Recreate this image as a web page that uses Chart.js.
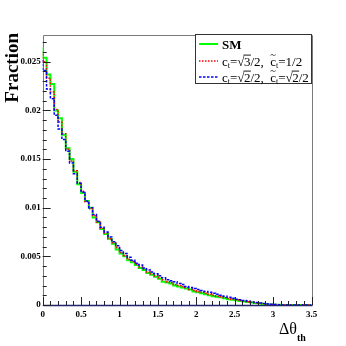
<!DOCTYPE html>
<html>
<head>
<meta charset="utf-8">
<script src="https://cdn.jsdelivr.net/npm/chart.js@4.4.1/dist/chart.umd.min.js"></script>
<style>
  html, body { margin: 0; padding: 0; background: #fff; }
  #wrap { width: 346px; height: 346px; }
</style>
</head>
<body>
<div id="wrap"><canvas id="chart" width="346" height="346"></canvas></div>
<script>
// histogram bins: 0.05 wide, starting at 0
const binWidth = 0.05;

const smValues = [
  0.0265, 0.0254, 0.0237, 0.0227, 0.0200, 0.0192, 0.0175, 0.0161, 0.0150, 0.0137,
  0.0124, 0.0115, 0.0107, 0.0100, 0.0090, 0.0085, 0.0078, 0.0073, 0.0068, 0.0063,
  0.0057, 0.0053, 0.0050, 0.0046, 0.0044, 0.0041, 0.0038, 0.0036, 0.0033, 0.0031,
  0.0029, 0.0027, 0.0024, 0.0023, 0.0022, 0.0020, 0.0019, 0.0018, 0.0017, 0.0016,
  0.0014, 0.0013, 0.0012, 0.0011, 0.0010, 0.0009, 0.00085, 0.0008, 0.0007, 0.0006,
  0.00055, 0.0005, 0.0004, 0.00035, 0.0003, 0.00025, 0.0002, 0.00015, 0.0001, 0.00007,
  0.00005, 0.00003, 0.00002, 0.00001, 0, 0, 0, 0, 0, 0,
];
const redValues = [
  0.0258, 0.0250, 0.0233, 0.0219, 0.0201, 0.0188, 0.0176, 0.0160, 0.0148, 0.0138,
  0.0126, 0.0117, 0.0106, 0.0099, 0.0092, 0.0085, 0.0079, 0.0074, 0.0068, 0.0064,
  0.0059, 0.0054, 0.0051, 0.0047, 0.0045, 0.0042, 0.0039, 0.0037, 0.0034, 0.0032,
  0.0030, 0.0028, 0.0026, 0.0024, 0.0023, 0.0021, 0.0020, 0.0019, 0.0018, 0.0016,
  0.0015, 0.0014, 0.0013, 0.0012, 0.0011, 0.0010, 0.0009, 0.00085, 0.00075, 0.00068,
  0.0006, 0.00052, 0.00045, 0.0004, 0.00033, 0.00028, 0.00022, 0.00017, 0.00012, 0.00009,
  0.00006, 0.00004, 0.00002, 0.00001, 0, 0, 0, 0, 0, 0,
];
const blueValues = [
  0.0252, 0.0241, 0.0222, 0.0212, 0.0195, 0.0181, 0.0170, 0.0158, 0.0146, 0.0135,
  0.0125, 0.0116, 0.0107, 0.0100, 0.0093, 0.0086, 0.0080, 0.0075, 0.0070, 0.0065,
  0.0061, 0.0056, 0.0053, 0.0049, 0.0046, 0.0043, 0.0041, 0.0038, 0.0036, 0.0034,
  0.0032, 0.0030, 0.0028, 0.0026, 0.0025, 0.0024, 0.0022, 0.0021, 0.0019, 0.0018,
  0.0017, 0.0016, 0.0015, 0.0014, 0.0013, 0.0012, 0.0011, 0.0010, 0.0009, 0.0008,
  0.0007, 0.0006, 0.00055, 0.00045, 0.0004, 0.00032, 0.00026, 0.0002, 0.00015, 0.0001,
  0.00007, 0.00005, 0.00003, 0.00001, 0, 0, 0, 0, 0, 0,
];

const xTicks = [0, 0.5, 1, 1.5, 2, 2.5, 3, 3.5];
const xTickLabels = ['0', '0.5', '1', '1.5', '2', '2.5', '3', '3.5'];
const yTicks = [0, 0.005, 0.01, 0.015, 0.02, 0.025];
const yTickLabels = ['0', '0.005', '0.01', '0.015', '0.02', '0.025'];

const SERIF = '"Liberation Serif", "DejaVu Serif", serif';

// left bin edges + closing edge, drawn as a step line
const toSteps = (vals) => {
  const pts = vals.map((v, i) => ({ x: +(i * binWidth).toFixed(2), y: v }));
  pts.push({ x: +(vals.length * binWidth).toFixed(2), y: vals[vals.length - 1] });
  return pts;
};

const series = [
  { key: 'sm', data: smValues, color: 'rgb(0,255,0)', width: 2, dash: [], order: 3 },
  { key: 'a', data: redValues, color: 'rgb(255,0,0)', width: 1.5, dash: [1.5, 1.5], order: 2 },
  { key: 'b', data: blueValues, color: 'rgb(0,0,255)', width: 1.5, dash: [2.5, 1.5], order: 1 },
];

// draws "c_t=√3/2" style runs piece by piece
const drawMath = (ctx, x, y, parts, size) => {
  let cx = x;
  parts.forEach((p) => {
    if (p.sub) {
      ctx.font = `${size * 0.62}px ${SERIF}`;
      ctx.fillText(p.sub, cx, y + size * 0.22);
      cx += ctx.measureText(p.sub).width;
      return;
    }
    ctx.font = `${size}px ${SERIF}`;
    if (p.sqrt) {
      const rw = ctx.measureText('\u221A').width;
      ctx.fillText('\u221A', cx, y);
      cx += rw * 0.92;
      const w = ctx.measureText(p.sqrt).width;
      ctx.fillText(p.sqrt, cx, y);
      ctx.save();
      ctx.lineWidth = 0.9;
      ctx.strokeStyle = '#000';
      ctx.beginPath();
      ctx.moveTo(cx - 0.5, y - size * 0.8);
      ctx.lineTo(cx + w + 0.5, y - size * 0.8);
      ctx.stroke();
      ctx.restore();
      cx += w;
      return;
    }
    if (p.tilde) {
      const w = ctx.measureText(p.tilde).width;
      ctx.fillText(p.tilde, cx, y);
      ctx.font = `${size * 0.8}px ${SERIF}`;
      const tw = ctx.measureText('~').width;
      ctx.fillText('~', cx + (w - tw) / 2, y - size * 0.55);
      cx += w;
      return;
    }
    ctx.fillText(p.t, cx, y);
    cx += ctx.measureText(p.t).width;
  });
};

const legendRows = [
  { label: [{ t: 'SM' }], bold: true },
  { label: [{ t: 'c' }, { sub: 't' }, { t: '=' }, { sqrt: '3' }, { t: '/2,  ' }, { tilde: 'c' }, { sub: 't' }, { t: '=1/2' }] },
  { label: [{ t: 'c' }, { sub: 't' }, { t: '=' }, { sqrt: '2' }, { t: '/2,  ' }, { tilde: 'c' }, { sub: 't' }, { t: '=' }, { sqrt: '2' }, { t: '/2' }] },
];

const frameAndTicks = {
  id: 'frameAndTicks',
  beforeDatasetsDraw(chart) {
    const { ctx, chartArea: a } = chart;
    const l = Math.round(a.left) + 0.5, t = Math.round(a.top) + 0.5;
    const r = Math.round(a.right) + 0.5, b = Math.round(a.bottom) + 0.5;
    ctx.save();
    ctx.lineWidth = 1;
    ctx.strokeStyle = '#7a7a7a';
    ctx.beginPath();
    ctx.moveTo(l, b);
    ctx.lineTo(l, t);
    ctx.lineTo(r, t);
    ctx.lineTo(r, b);
    ctx.stroke();
    ctx.strokeStyle = '#23236e';
    ctx.lineWidth = 1.5;
    ctx.beginPath();
    ctx.moveTo(l, b);
    ctx.lineTo(r, b);
    ctx.stroke();
    ctx.restore();
  },
  afterDatasetsDraw(chart) {
    const { ctx, chartArea: a, scales } = chart;
    const xs = scales.x, ys = scales.y;
    ctx.save();
    ctx.strokeStyle = '#222';
    ctx.lineWidth = 1;
    ctx.beginPath();
    for (let v = 0; v <= 3.5001; v += 0.1) {
      const px = Math.round(xs.getPixelForValue(v)) + 0.5;
      const major = xTicks.some((t) => Math.abs(t - v) < 1e-6);
      ctx.moveTo(px, a.bottom);
      ctx.lineTo(px, a.bottom - (major ? 8 : 4));
    }
    for (let v = 0; v <= ys.max + 1e-9; v += 0.001) {
      const py = Math.round(ys.getPixelForValue(v)) + 0.5;
      const major = yTicks.some((t) => Math.abs(t - v) < 1e-7);
      ctx.moveTo(a.left, py);
      ctx.lineTo(a.left + (major ? 8 : 4), py);
    }
    ctx.stroke();
    ctx.restore();
  },
  afterDraw(chart) {
    const { ctx } = chart;
    ctx.save();
    ctx.fillStyle = '#000';

    // y title
    ctx.save();
    ctx.translate(18, 33);
    ctx.rotate(-Math.PI / 2);
    ctx.textAlign = 'right';
    ctx.textBaseline = 'alphabetic';
    ctx.font = `bold 19px ${SERIF}`;
    ctx.fillText('Fraction', 0, 0);
    ctx.restore();

    // x title
    ctx.textAlign = 'left';
    ctx.textBaseline = 'alphabetic';
    ctx.font = `16px ${SERIF}`;
    ctx.fillText('\u0394\u03B8', 279, 334);
    const w = ctx.measureText('\u0394\u03B8').width;
    ctx.font = `bold 10px ${SERIF}`;
    ctx.fillText('th', 279 + w, 341);

    // legend
    const box = { l: 195.5, t: 34.5, r: 311.5, b: 83.5 };
    ctx.fillStyle = '#fff';
    ctx.fillRect(box.l, box.t, box.r - box.l, box.b - box.t);
    ctx.strokeStyle = '#333';
    ctx.lineWidth = 1;
    ctx.strokeRect(box.l, box.t, box.r - box.l, box.b - box.t);
    const rowY = [44, 61, 77];
    legendRows.forEach((row, i) => {
      const s = series[i];
      ctx.save();
      ctx.strokeStyle = s.color;
      ctx.lineWidth = s.width;
      ctx.setLineDash(s.dash);
      ctx.beginPath();
      ctx.moveTo(199, rowY[i]);
      ctx.lineTo(218, rowY[i]);
      ctx.stroke();
      ctx.restore();
      ctx.fillStyle = '#000';
      ctx.textBaseline = 'alphabetic';
      if (row.bold) {
        ctx.font = `bold 13px ${SERIF}`;
        ctx.fillText(row.label[0].t, 222, rowY[i] + 4.5);
      } else {
        drawMath(ctx, 222, rowY[i] + 4.5, row.label, 13);
      }
    });
    ctx.restore();
  },
};

new Chart(document.getElementById('chart'), {
  type: 'line',
  data: {
    datasets: series.map((s) => ({
      label: s.key,
      data: toSteps(s.data),
      stepped: 'after',
      borderColor: s.color,
      borderWidth: s.width,
      borderDash: s.dash,
      pointRadius: 0,
      fill: false,
      order: s.order,
    })),
  },
  options: {
    responsive: false,
    animation: false,
    devicePixelRatio: 1,
    layout: { padding: { top: 34.5, right: 34.5, left: 0, bottom: 0 } },
    plugins: { legend: { display: false }, tooltip: { enabled: false } },
    scales: {
      x: {
        type: 'linear',
        min: 0,
        max: 3.5,
        grid: { display: false, drawTicks: false },
        border: { display: false },
        afterBuildTicks: (scale) => { scale.ticks = xTicks.map((v) => ({ value: v })); },
        afterFit: (scale) => { scale.height = 41; },
        ticks: {
          padding: 4,
          maxRotation: 0,
          autoSkip: false,
          color: '#000',
          font: { family: SERIF, size: 9, weight: 'bold' },
          callback: (v, i) => xTickLabels[i],
        },
      },
      y: {
        type: 'linear',
        min: 0,
        max: 0.0278,
        grid: { display: false, drawTicks: false },
        border: { display: false },
        afterBuildTicks: (scale) => { scale.ticks = yTicks.map((v) => ({ value: v })); },
        afterFit: (scale) => { scale.width = 42.7; },
        ticks: {
          padding: 2,
          autoSkip: false,
          color: '#000',
          font: { family: SERIF, size: 9, weight: 'bold' },
          callback: (v, i) => yTickLabels[i],
        },
      },
    },
  },
  plugins: [frameAndTicks],
});
</script>
</body>
</html>
